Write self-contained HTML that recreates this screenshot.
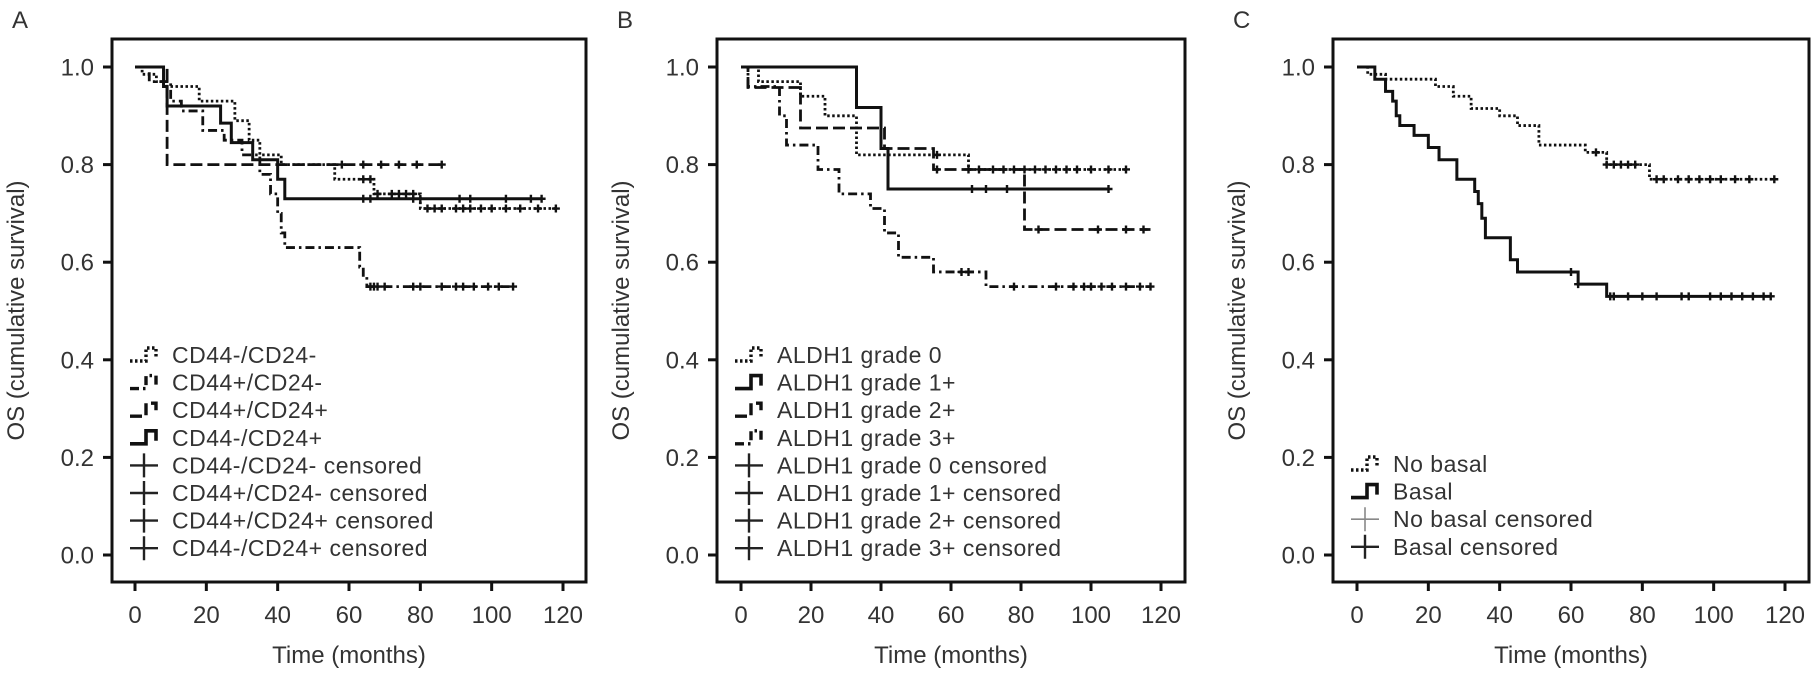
<!DOCTYPE html>
<html><head><meta charset="utf-8">
<style>
html,body{margin:0;padding:0;background:#fff;}
svg{display:block;font-family:"Liberation Sans",Arial,sans-serif;}
.tick{font-size:24px;fill:#333;}
.lab{font-size:24px;fill:#333;}
.leg{font-size:23px;fill:#333;letter-spacing:0.5px;}
</style></head>
<body>
<svg id="fig" width="1816" height="681" viewBox="0 0 1816 681" xmlns="http://www.w3.org/2000/svg"></svg>
<script>
// ---------- data ----------
const xTicks = [0,20,40,60,80,100,120];
const yTicks = [0.0,0.2,0.4,0.6,0.8,1.0];
const yTickLabels = ["0.0","0.2","0.4","0.6","0.8","1.0"];

// Panel A
const aNames = ["CD44-/CD24-","CD44+/CD24-","CD44+/CD24+","CD44-/CD24+"];
const aT0 = [0,2,6,9,18,25,28,32,35,41,56,67,80];
const aS0 = [1,0.985,0.97,0.96,0.93,0.93,0.89,0.85,0.82,0.80,0.77,0.74,0.71];
const aC0 = [64,66,68,72,74,76,78,82,84,86,90,92,94,97,100,104,108,113,118];
const aE0 = 118;
const aT1 = [0,4,10,13,19,25,30,35,38,40,41,42,63,64,65];
const aS1 = [1,0.97,0.93,0.91,0.87,0.85,0.82,0.78,0.74,0.70,0.66,0.63,0.59,0.57,0.55];
const aC1 = [66,67,68,70,78,80,86,90,92,95,99,102,106];
const aE1 = 106;
const aT2 = [0,9];
const aS2 = [1,0.80];
const aC2 = [58,64,69,74,79,86];
const aE2 = 86;
const aT3 = [0,8,9,24,27,33,40,42];
const aS3 = [1,0.96,0.92,0.885,0.845,0.81,0.77,0.73];
const aC3 = [64,66,78,80,91,94,104,111,114];
const aE3 = 114;

// Panel B
const bNames = ["ALDH1 grade 0","ALDH1 grade 1+","ALDH1 grade 2+","ALDH1 grade 3+"];
const bT0 = [0,5,17,24,33,65];
const bS0 = [1,0.97,0.94,0.90,0.82,0.79];
const bC0 = [56,68,72,75,78,81,84,87,90,93,96,100,105,110];
const bE0 = 110;
const bT1 = [0,33,40,42];
const bS1 = [1,0.917,0.833,0.75];
const bC1 = [66,70,76,105];
const bE1 = 105;
const bT2 = [0,2,17,41,55,81];
const bS2 = [1,0.958,0.875,0.833,0.79,0.667];
const bC2 = [56,65,85,102,110,115];
const bE2 = 117;
const bT3 = [0,2,11,13,22,28,37,41,45,55,70];
const bS3 = [1,0.96,0.90,0.84,0.79,0.74,0.71,0.66,0.61,0.58,0.55];
const bC3 = [63,65,78,90,95,98,100,103,106,110,114,117];
const bE3 = 117;

// Panel C
const cNames = ["No basal","Basal"];
const cT0 = [0,3,8,22,27,32,40,45,51,64,70,82];
const cS0 = [1,0.985,0.975,0.96,0.94,0.915,0.90,0.88,0.84,0.825,0.80,0.77];
const cC0 = [67,70,72,74,76,78,84,86,90,93,96,99,102,106,110,117];
const cE0 = 117;
const cT1 = [0,5,8,10,11,12,16,20,23,28,33,34,35,36,43,45,62,70];
const cS1 = [1,0.975,0.95,0.93,0.90,0.88,0.86,0.835,0.81,0.77,0.745,0.72,0.69,0.65,0.605,0.58,0.555,0.53];
const cC1 = [60,62,71,72,76,80,84,91,93,99,102,105,108,111,114,116];
const cE1 = 116;

// ---------- drawing ----------
const NS = "http://www.w3.org/2000/svg";
const svg = document.getElementById('fig');
function mk(tag, attrs, parent){
  const e = document.createElementNS(NS, tag);
  for (const k in attrs) e.setAttribute(k, attrs[k]);
  (parent||svg).appendChild(e);
  return e;
}
const Y1 = 67, Y0 = 555, FT = 39, FB = 582;
function yS(v){ return Y0 + (Y1 - Y0) * v; }

const panels = [
  {id:'a', letter:'A', fl:112, fr:586, x0:135, x120:563},
  {id:'b', letter:'B', fl:717, fr:1185, x0:741, x120:1161},
  {id:'c', letter:'C', fl:1333, fr:1809, x0:1357, x120:1785}
];
const styles = {
  dotted:{w:2.8,d:"2.5 2.5"},
  dashdot:{w:2.8,d:"9 4 2.5 4"},
  dashed:{w:2.8,d:"12 5"},
  solid:{w:3,d:""}
};

function stepPath(xS, T, S, end){
  let d = "M" + xS(T[0]) + "," + yS(S[0]);
  for (let i=1;i<T.length;i++){
    d += " H" + xS(T[i]) + " V" + yS(S[i]);
  }
  d += " H" + xS(end);
  return d;
}
function survAt(T,S,t){
  let v = S[0];
  for (let i=0;i<T.length;i++){ if (T[i] <= t) v = S[i]; }
  return v;
}

function drawPanel(p, series, legendRows){
  const g = mk('g', {});
  
  
  const xS = t => p.x0 + (p.x120 - p.x0) * t / 120;
  const letter = mk('text', {x:p.fl-100, y:28, class:'lab'}, g);
  letter.textContent = p.letter;
  
  
  const frame = mk('rect', {x:p.fl, y:FT, width:p.fr-p.fl, height:FB-FT, fill:'none', stroke:'#111', 'stroke-width':3}, g);
  
  
  yTicks.forEach((v,i)=>{
    mk('line',{x1:p.fl-9,x2:p.fl,y1:yS(v),y2:yS(v),stroke:'#111','stroke-width':3},g);
    const t = mk('text',{x:p.fl-18,y:yS(v)+8.5,'text-anchor':'end',class:'tick'},g);
    t.textContent = yTickLabels[i];
    
    
  });
  xTicks.forEach(v=>{
    mk('line',{x1:xS(v),x2:xS(v),y1:FB,y2:FB+9,stroke:'#111','stroke-width':3},g);
    const t = mk('text',{x:xS(v),y:623,'text-anchor':'middle',class:'tick'},g);
    t.textContent = v;
    
    
  });
  const yl = mk('text',{x:0,y:0,'text-anchor':'middle',class:'lab',transform:'translate('+(p.fl-88)+','+((FT+FB)/2)+') rotate(-90)'},g);
  yl.textContent = 'OS (cumulative survival)';
  
  
  const xl = mk('text',{x:(p.fl+p.fr)/2,y:663,'text-anchor':'middle',class:'lab'},g);
  xl.textContent = 'Time (months)';
  
  

  series.forEach(s=>{
    const st = styles[s.style];
    const path = mk('path',{d:stepPath(xS,s.T,s.S,s.E),fill:'none',stroke:'#111','stroke-width':st.w,'stroke-dasharray':st.d},g);
    
    
    s.C.forEach(c=>{
      const cx = xS(c), cy = yS(survAt(s.T,s.S,c));
      const m = mk('path',{d:'M'+(cx-4)+','+cy+' H'+(cx+4)+' M'+cx+','+(cy-4)+' V'+(cy+4),stroke:'#111','stroke-width':2.4},g);
      
      
    });
  });

  const lx = p.fl + 18, ty0 = legendRows.start;
  legendRows.items.forEach((it,i)=>{
    const y = ty0 + i*27.6;
    const lg = mk('g',{},g);
    
    
    if (it.style){
      const st = styles[it.style];
      mk('path',{d:'M'+lx+','+(y+6)+' H'+(lx+16)+' V'+(y-7)+' H'+(lx+26)+' V'+(y+3),fill:'none',stroke:'#111','stroke-width':st.w+0.6,'stroke-dasharray':st.d},lg);
    } else {
      mk('path',{d:'M'+lx+','+y+' H'+(lx+28)+' M'+(lx+14)+','+(y-12)+' V'+(y+12),stroke:it.light?'#888':'#222','stroke-width':it.light?1.6:2.4},lg);
    }
    const t = mk('text',{x:lx+42,y:y+8,class:'leg'},lg);
    t.textContent = it.label;
  });
}

drawPanel(panels[0], [
  {T:aT0,S:aS0,C:aC0,E:aE0,style:'dotted'},
  {T:aT1,S:aS1,C:aC1,E:aE1,style:'dashdot'},
  {T:aT2,S:aS2,C:aC2,E:aE2,style:'dashed'},
  {T:aT3,S:aS3,C:aC3,E:aE3,style:'solid'}
], {start:355, items:[
  {label:aNames[0],style:'dotted'},{label:aNames[1],style:'dashdot'},
  {label:aNames[2],style:'dashed'},{label:aNames[3],style:'solid'},
  {label:aNames[0]+' censored'},{label:aNames[1]+' censored'},
  {label:aNames[2]+' censored'},{label:aNames[3]+' censored'}]});

drawPanel(panels[1], [
  {T:bT0,S:bS0,C:bC0,E:bE0,style:'dotted'},
  {T:bT1,S:bS1,C:bC1,E:bE1,style:'solid'},
  {T:bT2,S:bS2,C:bC2,E:bE2,style:'dashed'},
  {T:bT3,S:bS3,C:bC3,E:bE3,style:'dashdot'}
], {start:355, items:[
  {label:bNames[0],style:'dotted'},{label:bNames[1],style:'solid'},
  {label:bNames[2],style:'dashed'},{label:bNames[3],style:'dashdot'},
  {label:bNames[0]+' censored'},{label:bNames[1]+' censored'},
  {label:bNames[2]+' censored'},{label:bNames[3]+' censored'}]});

drawPanel(panels[2], [
  {T:cT0,S:cS0,C:cC0,E:cE0,style:'dotted'},
  {T:cT1,S:cS1,C:cC1,E:cE1,style:'solid'}
], {start:464, items:[
  {label:cNames[0],style:'dotted'},{label:cNames[1],style:'solid'},
  {label:cNames[0]+' censored',light:true},{label:cNames[1]+' censored'}]});
</script>
</body></html>
